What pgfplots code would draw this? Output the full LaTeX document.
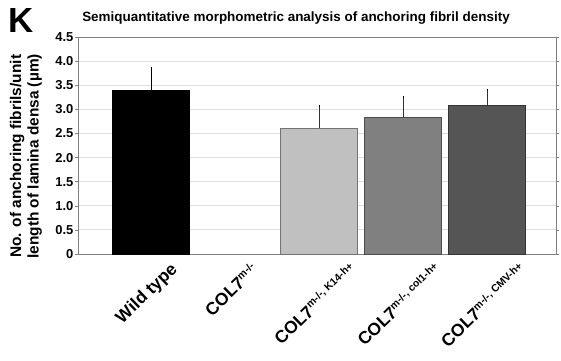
\documentclass[border=0pt]{standalone}
\usepackage{pgfplots}
\pgfplotsset{compat=1.18}
\usepackage{fontspec}
\setmainfont{Liberation Sans}
\definecolor{gridc}{HTML}{DDDDDD}
\definecolor{framec}{HTML}{808080}
\definecolor{bA}{HTML}{000000}
\definecolor{bC}{HTML}{C0C0C0}
\definecolor{bD}{HTML}{808080}
\definecolor{bE}{HTML}{555555}
\newcommand{\sps}[1]{\textsuperscript{\fontsize{10.5}{10.5}\selectfont #1}}
\begin{document}
\begin{tikzpicture}[x=1bp,y=1bp]
\path[use as bounding box] (0,0) rectangle (561,360);
\node[anchor=north west, font=\bfseries\fontsize{35}{35}\selectfont, inner sep=0pt] at (8,352) {K};
\begin{axis}[
  at={(78bp,106bp)}, anchor=south west,
  width=478bp, height=217bp, scale only axis,
  xmin=-0.87, xmax=4.82, ymin=0, ymax=4.5,
  ytick={0,0.5,1,1.5,2,2.5,3,3.5,4,4.5},
  yticklabels={0,0.5,1.0,1.5,2.0,2.5,3.0,3.5,4.0,4.5},
  yticklabel style={font=\bfseries\fontsize{13}{13}\selectfont, inner sep=1.5pt},
  tick align=outside, tick style={framec, thin}, major tick length=3bp,
  ymajorgrids, grid style={gridc, line width=0.8pt},
  axis line style={framec, line width=0.9pt},
  xtick={0,1,2,3,4}, xtick style={draw=none},
  xticklabels={
    \rotatebox{44}{Wild type},
    \rotatebox{44}{COL7\sps{m-/-}},
    \rotatebox{44}{COL7\sps{m-/-, K14-h+}},
    \rotatebox{44}{COL7\sps{m-/-, col1-h+}},
    \rotatebox{44}{COL7\sps{m-/-, CMV-h+}}},
  xticklabel style={font=\bfseries\fontsize{17.5}{17.5}\selectfont, anchor=north, xshift=-4bp, yshift=-4bp, inner sep=0pt},
  ylabel={\shortstack{No. of anchoring fibrils/unit\\length of lamina densa (\textmu m)}},
  ylabel style={font=\bfseries\fontsize{15.5}{16.5}\selectfont, at={(-36bp,0.45)}, anchor=south, inner sep=0pt},
  title={Semiquantitative morphometric analysis of anchoring fibril density},
  title style={font=\bfseries\fontsize{13.5}{14}\selectfont, at={(218bp,1)}, yshift=3bp, anchor=south},
  ybar, bar width=77bp, bar shift=0pt,
  clip=false,
]
\addplot[fill=bA, draw=black, line width=0.6pt,
  error bars/.cd, y dir=plus, y explicit, error bar style={black, line width=0.8pt}, error mark options={black, mark size=1.5pt, line width=0.8pt}]
  coordinates {(0,3.40) +- (0,0.45)};
\addplot[fill=bC, draw=gray!90!black, line width=0.8pt,
  error bars/.cd, y dir=plus, y explicit, error bar style={black!80, line width=0.8pt}, error mark options={black, mark size=1.2pt, line width=0.8pt}]
  coordinates {(2,2.61) +- (0,0.46)};
\addplot[fill=bD, draw=black!70, line width=0.8pt,
  error bars/.cd, y dir=plus, y explicit, error bar style={black!80, line width=0.8pt}, error mark options={black, mark size=1.2pt, line width=0.8pt}]
  coordinates {(3,2.84) +- (0,0.41)};
\addplot[fill=bE, draw=black!80, line width=0.8pt,
  error bars/.cd, y dir=plus, y explicit, error bar style={black!80, line width=0.8pt}, error mark options={black, mark size=1.2pt, line width=0.8pt}]
  coordinates {(4,3.09) +- (0,0.31)};
\end{axis}
\end{tikzpicture}
\end{document}
